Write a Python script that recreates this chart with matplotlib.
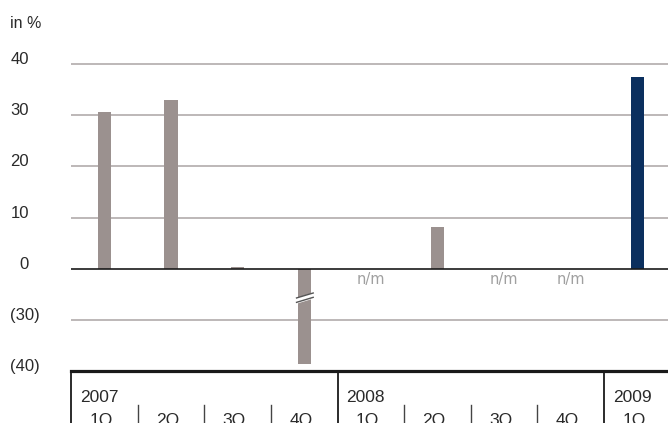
import matplotlib.pyplot as plt
import matplotlib.transforms as mtransforms
import numpy as np

plt.rcParams['font.family'] = ['Liberation Sans', 'DejaVu Sans']

# data (None = n/m, not meaningful)
quarters = ["1Q", "2Q", "3Q", "4Q", "1Q", "2Q", "3Q", "4Q", "1Q"]
years = ["2007", "2008", "2009"]
year_start = [0, 4, 8]
values = [30.7, 33.0, 0.3, -38.6, None, 8.1, None, None, 37.4]
highlight = [False, False, False, False, False, False, False, False, True]
y_ticks = [40, 30, 20, 10, 0, -30, -40]

GREY = '#9b918f'
NAVY = '#0b2f5e'
GRID = '#b8b2b2'
TXT = '#2a2a2a'


def to_axis(v):
    # axis is broken below zero: (30) sits one step under 0
    if v < -20:
        return v + 20
    return v


fig = plt.figure(figsize=(6.68, 4.23), dpi=100)
W, H = 668, 423
ax = fig.add_axes([71 / W, 52 / H, 597 / W, 311 / H])
ax.set_xlim(-0.5, 8.46)
ax.set_ylim(-20, 40.8)

x = np.arange(len(quarters))

# gridlines
for t in y_ticks:
    yy = to_axis(t)
    if t == 0:
        ax.axhline(yy, color='#1a1a1a', lw=1.2, zorder=3)
    elif yy > -20:
        ax.axhline(yy, color=GRID, lw=1.3, zorder=1)

# bars
for i, v in enumerate(values):
    if v is None:
        ax.text(x[i], -2.2, "n/m", ha='center', va='center', fontsize=10.5,
                color='#a0a0a0', family='DejaVu Sans')
        continue
    c = NAVY if highlight[i] else GREY
    ax.bar(x[i], to_axis(v), width=0.2, color=c, zorder=2)
    if v < -20:
        # break marks on the long negative bar
        xs = np.array([x[i] - 0.115, x[i] + 0.135])
        top = np.array([-5.72, -4.75])
        bot = np.array([-6.58, -5.60])
        ax.fill_between(xs, bot, top, color='white', zorder=4)
        ax.plot(xs, top, color='#555555', lw=1.0, zorder=5)
        ax.plot(xs, bot, color='#555555', lw=1.0, zorder=5)

for s in ['top', 'left', 'right']:
    ax.spines[s].set_visible(False)
ax.spines['bottom'].set_linewidth(2.3)
ax.spines['bottom'].set_color('#1a1a1a')
ax.set_xticks([])
ax.set_yticks([])

# y labels
trans = mtransforms.blended_transform_factory(fig.transFigure, ax.transData)
for t in y_ticks:
    if t < 0:
        ax.text(40 / W, to_axis(t), f"({abs(t)})", transform=trans,
                ha='right', va='baseline', fontsize=12, color=TXT)
    else:
        ax.text(29 / W, to_axis(t), str(t), transform=trans,
                ha='right', va='baseline', fontsize=12, color=TXT)

fig.text(10 / W, 1 - 28 / H, "in %", ha='left', va='baseline', fontsize=11.5,
         color=TXT)

# category table below the chart
tab = fig.add_axes([71 / W, 0, 597 / W, 52 / H])
tab.set_xlim(ax.get_xlim())
tab.set_ylim(52, 0)
tab.axis('off')
for s in year_start:
    tab.plot([s - 0.5, s - 0.5], [0, 52], color='#1a1a1a', lw=1.3,
             clip_on=False)
for k in range(len(quarters) - 1):
    if (k + 1) not in year_start:
        tab.plot([k + 0.5, k + 0.5], [34, 52], color='#444444', lw=1.0,
                 clip_on=False)
for yr, s in zip(years, year_start):
    tab.text(s - 0.5 + 0.13, 31, yr, ha='left', va='baseline', fontsize=12.5,
             color=TXT)
for i, q in enumerate(quarters):
    tab.text(x[i] - 0.05, 53.5, q, ha='center', va='baseline', fontsize=12.5,
             color=TXT, clip_on=False)

fig.savefig("out.png", dpi=100)
